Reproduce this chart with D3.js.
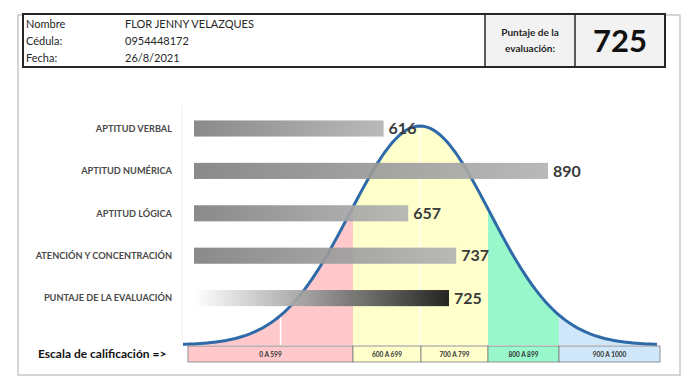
<!DOCTYPE html>
<html>
<head>
<meta charset="utf-8">
<script src="https://d3js.org/d3.v7.min.js"></script>
<style>
  body { margin: 0; background: #fff; }
  text { font-family: Lato, "Open Sans", sans-serif; }
</style>
</head>
<body>
<script>
// data ===================================================================
var infoLabels  = ["Nombre", "Cédula:", "Fecha:"]
var infoValues  = ["FLOR JENNY VELAZQUES", "0954448172", "26/8/2021"]
var totalScore  = 725

var categories  = ["APTITUD VERBAL", "APTITUD NUMÉRICA", "APTITUD LÓGICA", "ATENCIÓN Y CONCENTRACIÓN", "PUNTAJE DE LA EVALUACIÓN"]
var scores      = [616, 890, 657, 737, 725]

var scaleLabels = ["0 A 599", "600 A 699", "700 A 799", "800 A 899", "900 A 1000"]
var scaleBreaks = [0, 600, 700, 800, 900, 1000]
var scaleColors = ["#ffc9cc", "#ffffcc", "#ffffcc", "#99f7cc", "#cfe7f8"]

// bell curve drawn in sigma units, white guide lines at these sigmas
var curveSpan   = [-3.4, 3.4]
var curveGuides = [-2, 0]

var W = 700, H = 390

var svg = d3.select("body").append("svg")
    .attr("width", W)
    .attr("height", H)

var defs = svg.append("defs")

// outer frame
svg.append("rect")
    .attr("x", 18).attr("y", 15)
    .attr("width", 662).attr("height", 360)
    .style("fill", "#fff")
    .style("stroke", "#c8c8c8")
    .style("stroke-width", 1.5)

// header ================================================================
var head = svg.append("g")

head.append("rect")
    .attr("x", 23).attr("y", 14).attr("width", 642).attr("height", 53)
    .style("fill", "#fff")
head.append("rect")
    .attr("x", 485).attr("y", 14).attr("width", 180).attr("height", 53)
    .style("fill", "#f2f2f2")
head.append("rect")
    .attr("x", 23).attr("y", 14).attr("width", 642).attr("height", 53)
    .style("fill", "none")
    .style("stroke", "#262626")
    .style("stroke-width", 2)
head.selectAll("line.div")
    .data([485, 575])
    .enter().append("line")
    .attr("x1", function(d) { return d }).attr("x2", function(d) { return d })
    .attr("y1", 14).attr("y2", 67)
    .style("stroke", "#262626")
    .style("stroke-width", 1.5)

var infoY = d3.scalePoint().domain(infoLabels).range([28, 62])

head.selectAll("text.lbl")
    .data(infoLabels)
    .enter().append("text")
    .attr("x", 26)
    .attr("y", function(d) { return infoY(d) })
    .attr("font-size", "11px")
    .style("fill", "#262626")
    .text(function(d) { return d })

head.selectAll("text.val")
    .data(infoValues)
    .enter().append("text")
    .attr("x", 125)
    .attr("y", function(d, i) { return infoY(infoLabels[i]) })
    .attr("font-size", "11px")
    .style("fill", "#262626")
    .text(function(d) { return d })

head.selectAll("text.pt")
    .data(["Puntaje de la", "evaluación:"])
    .enter().append("text")
    .attr("x", 530)
    .attr("y", function(d, i) { return 36 + i * 16 })
    .attr("text-anchor", "middle")
    .attr("font-size", "10px")
    .attr("font-weight", "bold")
    .style("fill", "#262626")
    .text(function(d) { return d })

head.append("text")
    .attr("x", 620).attr("y", 52)
    .attr("text-anchor", "middle")
    .attr("font-size", "31px")
    .attr("font-weight", "bold")
    .style("fill", "#111")
    .text(totalScore)

// bell curve =============================================================
var pdf = function(z) { return Math.exp(-z * z / 2) }

var cx = d3.scaleLinear().domain(curveSpan).range([183, 657])
var cy = d3.scaleLinear().domain([0, 1]).range([345, 126])
var zs = d3.range(curveSpan[0], curveSpan[1] + 0.001, 0.05)

var sx = d3.scaleLinear().domain(scaleBreaks).range([188, 353, 421, 488, 559, 660])

var area = d3.area()
    .x(function(d) { return cx(d) })
    .y0(cy(0))
    .y1(function(d) { return cy(pdf(d)) })
var line = d3.line()
    .x(function(d) { return cx(d) })
    .y(function(d) { return cy(pdf(d)) })

defs.append("clipPath").attr("id", "under")
    .append("path").attr("d", area(zs))

var zones = svg.append("g").attr("clip-path", "url(#under)")

zones.selectAll("rect")
    .data(scaleColors)
    .enter().append("rect")
    .attr("x", function(d, i) { return i == 0 ? 180 : sx(scaleBreaks[i]) })
    .attr("width", function(d, i) { return sx(scaleBreaks[i + 1]) - (i == 0 ? 180 : sx(scaleBreaks[i])) })
    .attr("y", 100)
    .attr("height", 250)
    .style("fill", function(d) { return d })

zones.selectAll("line")
    .data(curveGuides)
    .enter().append("line")
    .attr("x1", function(d) { return cx(d) }).attr("x2", function(d) { return cx(d) })
    .attr("y1", 100).attr("y2", 350)
    .style("stroke", "#fff")
    .style("stroke-width", 1.5)

svg.append("path")
    .attr("d", line(zs))
    .style("fill", "none")
    .style("stroke", "#2f6aa8")
    .style("stroke-width", 3)

// faint plot area edge
svg.append("line")
    .attr("x1", 182).attr("x2", 182).attr("y1", 105).attr("y2", 340)
    .style("stroke", "#f0f0f0")

// bars ===================================================================
var gGray = defs.append("linearGradient").attr("id", "gray")
gGray.append("stop").attr("offset", "0%").attr("stop-color", "#808080")
gGray.append("stop").attr("offset", "100%").attr("stop-color", "#b3b3b3")

var gDark = defs.append("linearGradient").attr("id", "dark")
gDark.append("stop").attr("offset", "0%").attr("stop-color", "#ffffff")
gDark.append("stop").attr("offset", "45%").attr("stop-color", "#9a9a9a")
gDark.append("stop").attr("offset", "100%").attr("stop-color", "#111111")

var x = d3.scaleLinear().domain([300, 1000]).range([194, 614])
var y = d3.scaleBand()
    .domain(categories)
    .range([107.3, 319.3])
    .paddingInner(0.62)
    .paddingOuter(0.31)

var last = categories.length - 1

svg.append("g").selectAll("rect")
    .data(scores)
    .enter().append("rect")
    .attr("x", x(300))
    .attr("y", function(d, i) { return y(categories[i]) })
    .attr("width", function(d) { return x(d) - x(300) })
    .attr("height", y.bandwidth())
    .style("fill", function(d, i) { return i == last ? "url(#dark)" : "url(#gray)" })
    .style("opacity", 0.92)

svg.append("g").selectAll("text")
    .data(scores)
    .enter().append("text")
    .attr("x", function(d) { return x(d) + 5 })
    .attr("y", function(d, i) { return y(categories[i]) + y.bandwidth() / 2 })
    .attr("dy", ".36em")
    .attr("font-size", "16px")
    .attr("font-weight", "bold")
    .style("fill", "#3a3a3a")
    .text(function(d) { return d })

svg.append("g").selectAll("text")
    .data(categories)
    .enter().append("text")
    .attr("x", 172)
    .attr("y", function(d) { return y(d) + y.bandwidth() / 2 })
    .attr("dy", ".35em")
    .attr("text-anchor", "end")
    .attr("font-size", "9.2px")
    .attr("font-weight", "bold")
    .style("fill", "#4a4a4a")
    .text(function(d) { return d })

// rating scale ===========================================================
var scale = svg.append("g")

scale.selectAll("rect")
    .data(scaleLabels)
    .enter().append("rect")
    .attr("x", function(d, i) { return sx(scaleBreaks[i]) })
    .attr("width", function(d, i) { return sx(scaleBreaks[i + 1]) - sx(scaleBreaks[i]) })
    .attr("y", 346)
    .attr("height", 16)
    .style("fill", function(d, i) { return scaleColors[i] })
    .style("stroke", "#7a7a7a")
    .style("stroke-width", 0.8)

scale.selectAll("text")
    .data(scaleLabels)
    .enter().append("text")
    .attr("x", function(d, i) { return (sx(scaleBreaks[i]) + sx(scaleBreaks[i + 1])) / 2 })
    .attr("y", 357)
    .attr("text-anchor", "middle")
    .attr("font-size", "6.5px")
    .attr("font-weight", "bold")
    .style("fill", "#333")
    .text(function(d) { return d })

svg.append("text")
    .attr("x", 38).attr("y", 358)
    .attr("font-size", "12px")
    .attr("font-weight", "bold")
    .style("fill", "#111")
    .text("Escala de calificación =>")
</script>
</body>
</html>
